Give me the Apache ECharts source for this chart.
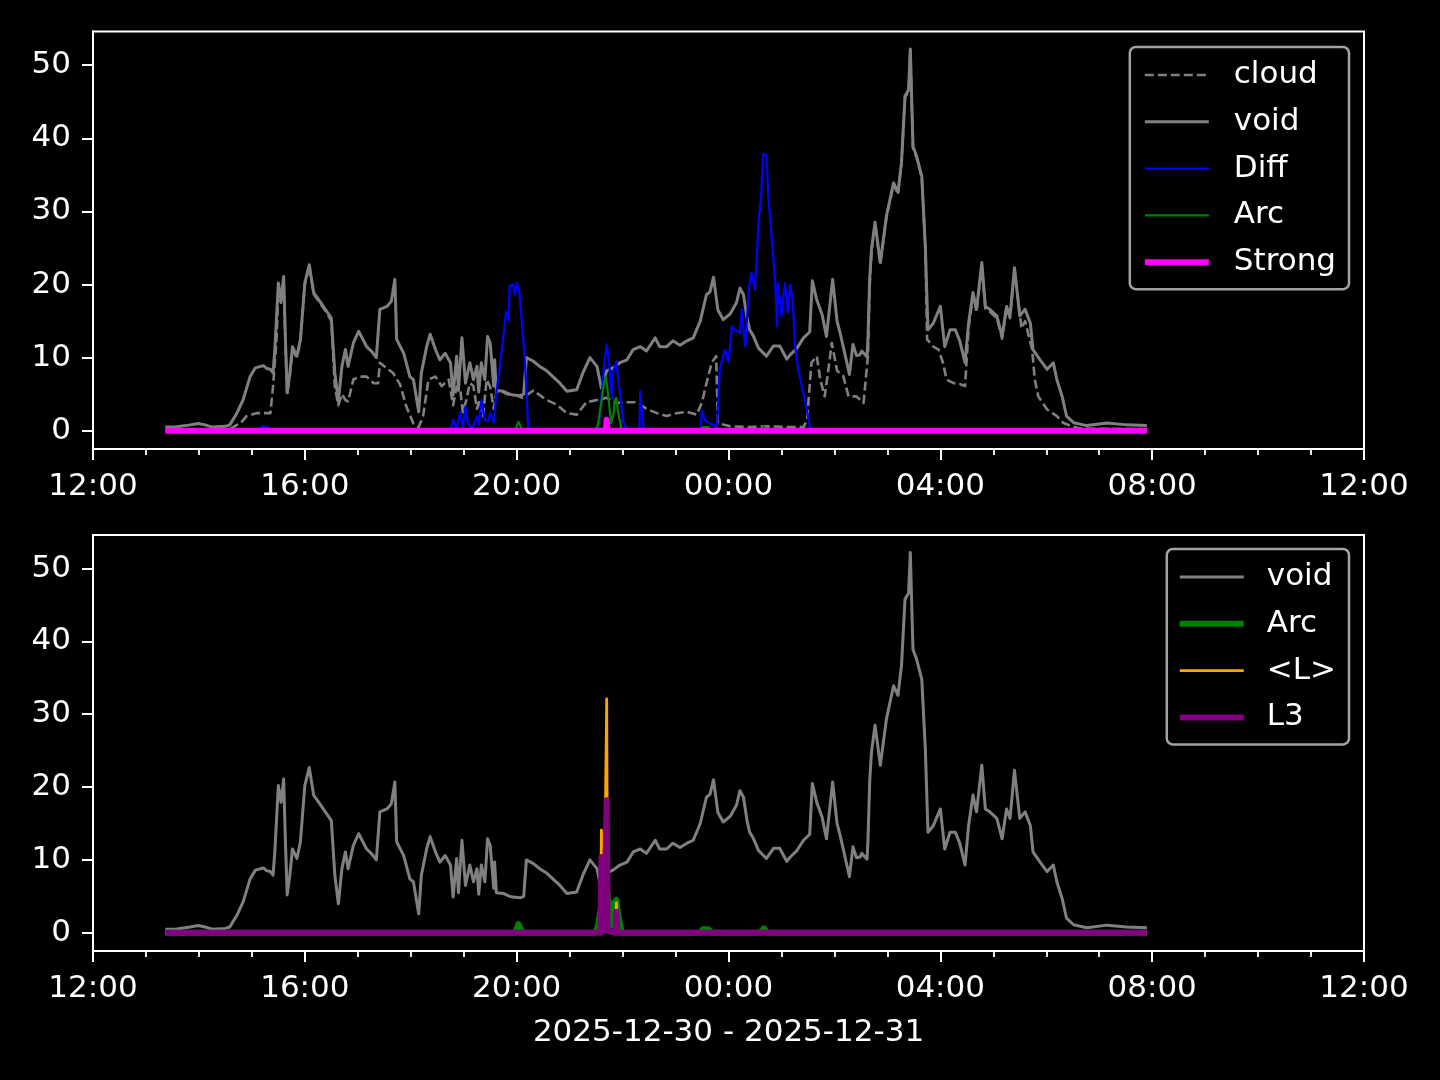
<!DOCTYPE html>
<html><head><meta charset="utf-8">
<script src="https://cdn.jsdelivr.net/npm/echarts@6/dist/echarts.min.js"></script>
<style>html,body{margin:0;padding:0;background:#000}#c{width:1440px;height:1080px}</style>
</head><body><div id="c"></div>
<script>
const xTickLabels = ['12:00','16:00','20:00','00:00','04:00','08:00','12:00'];
const yTickValues = [0,10,20,30,40,50];
const dateLabel = '2025-12-30 - 2025-12-31';

const voidTimes = ['13:22','13:33','13:50','13:59','14:07','14:15','14:30','14:35','14:43','14:50',
'14:58','15:04','15:13','15:17','15:21','15:24','15:26','15:30','15:33','15:36',
'15:38','15:40','15:43','15:46','15:51','15:55','16:00','16:05','16:10','16:17',
'16:25','16:30','16:34','16:38','16:42','16:46','16:49','16:55','17:01','17:10',
'17:16','17:21','17:23','17:25','17:33','17:38','17:42','17:44','17:52','17:59',
'18:03','18:09','18:12','18:18','18:22','18:28','18:33','18:39','18:45','18:48',
'18:52','18:54','18:58','19:02','19:07','19:11','19:15','19:17','19:20','19:24',
'19:27','19:30','19:34','19:35','19:37','19:45','19:52','19:56','20:04','20:08',
'20:11','20:19','20:26','20:34','20:41','20:49','20:57','21:08','21:15','21:23',
'21:31','21:36','21:42','21:49','21:57','22:05','22:12','22:20','22:27','22:37',
'22:42','22:50','22:57','23:05','23:13','23:20','23:28','23:35','23:39','23:43',
'23:48','23:54','00:02','00:09','00:13','00:17','00:21','00:24','00:28','00:34',
'00:43','00:51','00:58','01:06','01:10','01:17','01:25','01:32','01:35','01:40',
'01:46','01:51','01:58','02:03','02:06','02:10','02:12','02:17','02:21','02:25',
'02:29','02:31','02:37','02:38','02:40','02:42','02:46','02:52','02:59','03:07',
'03:12','03:16','03:20','03:24','03:26','03:29','03:33','03:39','03:43','03:46',
'03:52','04:00','04:05','04:11','04:17','04:22','04:28','04:32','04:37','04:41',
'04:47','04:51','04:56','05:04','05:10','05:15','05:19','05:24','05:30','05:36',
'05:42','05:45','05:53','06:01','06:08','06:12','06:18','06:23','06:31','06:46',
'07:09','07:31','07:54'];
const voidValues = [0.5,0.5,0.8,1.0,0.8,0.5,0.6,0.8,2.4,4.2,
7.4,8.6,8.9,8.5,8.4,7.9,11.1,20.2,17.9,21.1,
12.5,5.2,7.9,11.5,10.2,12.5,20.2,22.7,18.9,17.7,
16.3,15.4,7.9,4.0,8.8,11.1,8.8,12.0,13.6,11.5,
10.8,10.0,10.0,16.6,17.0,17.7,20.7,12.5,10.6,7.4,
7.0,2.6,7.9,11.5,13.2,11.1,9.7,10.6,9.3,4.9,
10.2,5.5,12.7,6.5,9.3,7.0,8.8,5.3,9.3,7.0,
12.9,12.0,6.1,9.7,5.5,5.4,5.0,4.9,4.8,5.0,
10.0,9.5,8.8,8.2,7.4,6.5,5.4,5.6,7.9,10.0,
8.8,5.8,8.2,8.6,9.3,9.7,11.1,11.5,10.9,12.7,
11.5,11.5,12.3,11.7,12.3,12.7,15.0,18.6,19.0,21.0,
16.5,15.2,16.0,17.5,19.5,18.6,15.4,13.8,13.0,11.3,
10.2,11.6,11.6,9.8,10.4,11.2,12.7,13.5,20.5,17.9,
15.9,12.9,20.7,15.0,13.6,11.5,11.3,7.7,11.8,10.3,
10.4,10.9,10.1,12.7,20.9,24.8,28.5,23.0,29.4,33.9,
32.6,36.7,45.8,46.6,52.2,38.9,37.6,34.8,25.2,13.8,
14.7,17.0,11.5,13.8,13.8,12.3,9.3,14.7,18.9,16.6,
23.0,17.0,16.6,15.7,12.9,17.0,15.7,22.3,15.7,16.6,
14.7,11.1,9.7,8.4,9.3,7.0,4.7,2.0,1.1,0.7,
1.05,0.8,0.7];

const cloudTimes = ['13:22','14:35','14:43','14:47','14:54','15:05','15:21','15:24','15:28','15:30',
'15:33','15:36','15:38','15:40','15:43','15:46','15:51','15:55','16:00','16:05',
'16:10','16:17','16:25','16:30','16:34','16:38','16:42','16:46','16:49','16:55',
'17:02','17:10','17:18','17:23','17:25','17:33','17:40','17:48','17:55','18:03',
'18:09','18:14','18:20','18:28','18:35','18:43','18:48','18:52','18:56','18:59',
'19:03','19:07','19:11','19:15','19:18','19:22','19:26','19:30','19:34','19:37',
'19:41','19:49','19:56','20:07','20:19','20:34','20:45','20:57','21:08','21:19',
'21:31','21:42','21:53','22:05','22:16','22:27','22:39','22:50','23:01','23:13',
'23:24','23:30','23:35','23:41','23:46','23:48','00:02','00:24','00:47','01:10',
'01:25','01:29','01:34','01:40','01:44','01:49','01:53','01:57','02:03','02:10',
'02:16','02:25','02:33','02:37','02:38','02:40','02:42','02:46','02:52','02:59',
'03:07','03:12','03:16','03:20','03:24','03:26','03:29','03:33','03:39','03:43',
'03:45','03:52','03:58','04:03','04:07','04:15','04:22','04:28','04:32','04:37',
'04:41','04:47','04:51','04:56','05:04','05:10','05:15','05:19','05:24','05:32',
'05:36','05:44','05:47','05:51','06:01','06:12','06:19','06:27','06:38','07:54'];
const cloudValues = [0,0.2,0.8,1.0,2.0,2.4,2.4,6.1,12.5,19.5,
17.5,20.5,12.0,5.0,7.5,11.0,10.0,12.3,20.0,22.5,
18.7,17.5,16.1,15.0,6.0,3.5,5.0,4.2,4.0,7.0,
7.4,7.4,6.5,6.5,9.3,8.5,7.9,6.3,3.3,1.0,
0.5,2.0,7.0,7.4,6.1,7.0,3.5,6.0,5.7,2.5,
4.2,6.5,6.1,3.0,4.2,2.0,7.0,6.0,3.0,5.3,
5.5,5.0,5.0,4.5,5.5,4.2,3.6,2.4,2.2,3.9,
4.2,4.5,3.8,3.9,3.9,3.0,2.4,2.0,2.4,2.6,
2.2,3.9,6.5,9.3,10.2,1.0,0.6,0.5,0.6,0.5,
0.5,1.5,9.3,10.2,7.0,4.7,8.2,12.0,8.2,7.5,
4.7,4.7,3.8,9.0,10.2,20.0,24.5,28.2,22.8,29.2,
33.7,32.4,36.5,45.6,46.4,52.0,38.7,37.4,34.6,25.0,
12.5,11.5,11.1,9.3,7.0,6.5,6.4,6.1,14.0,18.5,
16.3,22.6,16.7,16.3,15.4,12.6,16.7,15.4,22.0,14.0,
15.0,11.1,7.0,4.7,2.9,2.0,1.1,0.7,0.3,0.2];

const diffTimes = ['13:22','15:07','15:12','15:18','15:23','18:45','18:48','18:52','18:56','18:59',
'19:02','19:05','19:07','19:10','19:15','19:17','19:20','19:24','19:28','19:30',
'19:34','19:37','19:41','19:45','19:48','19:51','19:52','19:56','19:58','20:00',
'20:03','20:06','20:09','20:11','20:13','20:14','21:31','21:33','21:36','21:39',
'21:42','21:45','21:48','21:49','21:53','21:55','21:58','22:01','22:05','22:06',
'22:19','22:20','22:22','22:24','23:28','23:30','23:31','23:33','23:39','23:47',
'23:48','23:50','23:56','00:00','00:04','00:07','00:13','00:15','00:17','00:19',
'00:23','00:26','00:30','00:34','00:37','00:39','00:43','00:45','00:49','00:53',
'00:55','00:56','01:00','01:04','01:07','01:10','01:13','01:15','01:19','01:23',
'01:27','01:30','01:33','07:54'];
const diffValues = [0,0,0.6,0.5,0,0,1.5,0.3,2.5,0.5,
3.3,1.0,1.1,0.3,2.0,0.8,4.2,1.4,1.4,2.4,
1.1,5.2,8.8,12.9,16.3,15.0,19.8,20.0,18.6,20.2,
19.0,14.7,10.2,5.7,0.5,0,0,0.5,4.5,8.8,
11.8,8.8,4.5,7.9,9.5,7.0,4.2,1.0,0.3,0,
0,5.4,5.4,0,0,2.8,2.9,1.4,1.0,0.5,
3.0,8.4,11.1,9.3,14.3,13.8,13.4,16.6,16.6,11.5,
19.3,21.6,19.3,28.4,32.1,37.8,37.7,32.1,26.2,20.2,
14.3,20.2,15.7,20.2,16.1,20.0,17.5,12.0,8.4,6.1,
3.9,2.0,0,0];

const arcTimes = ['13:22','19:58','20:02','20:04','20:07','21:29','21:32','21:36','21:39','21:41',
'21:44','21:47','21:50','21:51','21:53','21:55','21:58','21:59','23:28','23:31',
'23:37','23:41','00:36','00:40','00:44','07:54'];
const arcValues = [0,0,1.2,1.4,0,0,0.8,3.9,6.5,7.4,
4.5,1.0,2.5,4.2,4.5,2.4,0.7,0,0,0.5,
0.5,0,0,0.6,0,0];

const strongTimes = ['13:22','21:41','21:42','21:43','07:54'];
const strongValues = [0,0,1.5,0,0];

const lTimes = ['13:22','21:35','21:36','21:39','21:42','21:43','21:52','21:53','21:54','07:54'];
const lMeanValues = [0,0,14.1,0.3,32.1,0.3,0,4.1,0,0];
const l3Values = [0,0,10.4,0.3,18.2,0.3,0,2.9,0,0];

function toHours(t){const p=t.split(':').map(Number);let v=p[0]+p[1]/60-12;if(v<0)v+=24;return v;}
function pairs(times, values){return times.map((t,i)=>[toHours(t), values[i]]);}

const FONT = 'DejaVu Sans';
const GRAY = '#808080';
function xAxisCfg(gi, withName){
  const a = {
    type:'value', gridIndex:gi, min:0, max:24, interval:4,
    axisLine:{show:true, onZero:false, lineStyle:{color:'#fff', width:2}},
    axisTick:{show:true, length:11, lineStyle:{color:'#fff', width:2}},
    minorTick:{show:true, splitNumber:4, length:6, lineStyle:{color:'#fff', width:1.8}},
    splitLine:{show:false},
    axisLabel:{color:'#fff', fontSize:31, fontFamily:FONT, margin:20, lineHeight:36,
      showMinLabel:true, showMaxLabel:true,
      formatter:(v)=>xTickLabels[Math.round(v/4)]}
  };
  if (withName){
    a.name = dateLabel; a.nameLocation='middle'; a.nameGap=64;
    a.nameTextStyle={color:'#fff', fontSize:31, fontFamily:FONT, lineHeight:36};
  }
  return a;
}
function yAxisCfg(gi){
  return {
    type:'value', gridIndex:gi, min:-2.5, max:54.6,
    axisLine:{show:true, onZero:false, lineStyle:{color:'#fff', width:2}},
    axisTick:{show:true, length:11, customValues:yTickValues, lineStyle:{color:'#fff', width:2}},
    splitLine:{show:false},
    axisLabel:{color:'#fff', fontSize:31, fontFamily:FONT, margin:22, customValues:yTickValues,
      formatter:(v)=>String(v)}
  };
}
function lineSeries(name, data, xi, color, width, dash){
  return {type:'line', name, data, xAxisIndex:xi, yAxisIndex:xi, symbol:'none', showSymbol:false,
    lineStyle:{color, width, type: dash || 'solid', cap:'butt', join:'round'},
    itemStyle:{color}, emphasis:{disabled:true}, silent:true, animation:false};
}
function legendItem(name, color, width, dash){
  return {name, itemStyle:{opacity:0}, lineStyle:{color, width, type: dash || 'solid', opacity:1}};
}
const legendCommon = {
  orient:'vertical', itemWidth:64, itemHeight:14, itemGap:10.8,
  backgroundColor:'#000', borderColor:'#a3a3a3', borderWidth:2.5, borderRadius:6,
  selectedMode:false, itemStyle:{opacity:0}
};

const chart = echarts.init(document.getElementById('c'), null, {renderer:'canvas'});
chart.setOption({
  backgroundColor:'#000',
  animation:false,
  grid:[
    {left:93, top:31.5, width:1271, height:417.5, show:true, borderColor:'#fff', borderWidth:2, backgroundColor:'transparent'},
    {left:93, top:535, width:1271, height:416, show:true, borderColor:'#fff', borderWidth:2, backgroundColor:'transparent'}
  ],
  xAxis:[xAxisCfg(0,false), xAxisCfg(1,true)],
  yAxis:[yAxisCfg(0), yAxisCfg(1)],
  legend:[
    Object.assign({}, legendCommon, {right:91, top:47, padding:[10,13,9,12],
      textStyle:{color:'#fff', fontSize:31, fontFamily:FONT, lineHeight:36, padding:[0,0,0,20]},
      data:[legendItem('cloud',GRAY,2.6,[9,4]), legendItem('void',GRAY,3), legendItem('Diff','#0000ff',2.2),
            legendItem('Arc','#008000',2.2), legendItem('Strong','#ff00ff',6)]}),
    Object.assign({}, legendCommon, {right:91, top:549, padding:[10,13,9,10],
      textStyle:{color:'#fff', fontSize:31, fontFamily:FONT, lineHeight:36, padding:[0,0,0,18]},
      data:[legendItem('void',GRAY,3), legendItem('Arc','#008000',6),
            legendItem('<L>','#ffa500',2.8), legendItem('L3','#800080',6)]})
  ],
  series:[
    lineSeries('cloud', pairs(cloudTimes, cloudValues), 0, GRAY, 2.6, [9,4]),
    lineSeries('void', pairs(voidTimes, voidValues), 0, GRAY, 3),
    lineSeries('Diff', pairs(diffTimes, diffValues), 0, '#0000ff', 2.2),
    lineSeries('Arc', pairs(arcTimes, arcValues), 0, '#008000', 2.2),
    lineSeries('Strong', pairs(strongTimes, strongValues), 0, '#ff00ff', 6),
    lineSeries('void', pairs(voidTimes, voidValues), 1, GRAY, 3),
    lineSeries('Arc', pairs(arcTimes, arcValues), 1, '#008000', 6),
    lineSeries('<L>', pairs(lTimes, lMeanValues), 1, '#ffa500', 2.8),
    lineSeries('L3', pairs(lTimes, l3Values), 1, '#800080', 6)
  ]
});
</script></body></html>
